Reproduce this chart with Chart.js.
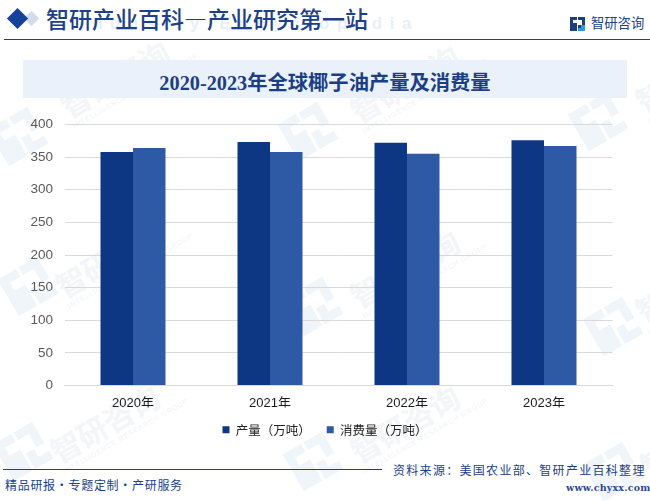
<!DOCTYPE html>
<html lang="zh">
<head>
<meta charset="utf-8">
<script src="https://cdn.jsdelivr.net/npm/chart.js@4/dist/chart.umd.min.js"></script>
<style>
html,body{margin:0;padding:0;background:#fff;overflow:hidden}
#page{position:relative;width:650px;height:501px;overflow:hidden;font-family:"Noto Sans CJK SC",sans-serif}
.a{position:absolute;white-space:nowrap;line-height:1}
canvas#c{position:absolute;left:0;top:0}
.wm{position:absolute;transform:rotate(-30deg);transform-origin:0 0;color:#f3f5f8;font-weight:700;font-size:30px;line-height:1;white-space:nowrap}
.wm small{display:block;font-size:7px;font-weight:400;letter-spacing:.9px;font-family:"Liberation Sans";margin-top:3px;color:#f1f3f6}
.wl{position:absolute;transform:rotate(-30deg)}
</style>
</head>
<body>
<div id="page">
<div id="wms"></div>
<div class="a" style="left:23px;top:60px;width:604px;height:38px;background:#eaf1fb"></div>
<div class="a" style="left:80px;top:14px;font:700 17px 'Liberation Sans';letter-spacing:7.5px;color:#e9eff8">Industry Encyclopedia</div>
<div class="a" style="left:26px;top:12.5px;width:11px;height:11px;background:#d5dcec;transform:rotate(45deg)"></div>
<div class="a" style="left:10px;top:11px;width:15px;height:15px;background:#15429a;transform:rotate(45deg)"></div>
<div class="a" style="left:46px;top:7px;font-size:23px;font-weight:500;color:#1c4187">智研产业百科—产业研究第一站</div>
<svg class="a" style="left:570px;top:17px" width="15" height="14" viewBox="0 0 15 14">
<path d="M0 0h7v3H3v3h4v8H0zM8 0h7v8h-4v3h4v3H8V8h4V3H8z" fill="#1c3f7f"/><path d="M11 8h4v6H8v-3h3z" fill="#2d9bd8"/></svg>
<div class="a" style="left:591px;top:16px;font-size:13.3px;color:#1c4187">智研咨询</div>
<div class="a" style="left:4px;top:39px;width:646px;height:1px;background:#1c4187"></div>
<div class="a" style="left:0;top:65.5px;width:650px;text-align:center;font:700 20.3px 'Liberation Serif','Noto Sans CJK SC';color:#1c3f84">2020-2023年全球椰子油产量及消费量</div>
<canvas id="c" width="650" height="446" style="width:650px;height:446px"></canvas>
<div class="a" style="left:3px;top:469px;width:379px;height:1px;background:#1c4187"></div>
<div class="a" style="left:5px;top:479px;font-size:12px;letter-spacing:.7px;color:#1c4187">精品研报·专题定制·产研服务</div>
<div class="a" style="left:393px;top:464px;font-size:12px;letter-spacing:1.3px;color:#1c4187">资料来源：美国农业部、智研产业百科整理</div>
<div class="a" style="left:566px;top:482px;font:700 9.5px 'DejaVu Serif';letter-spacing:.2px;color:#2a4c8e">www.chyxx.com</div>
</div>
<script>
const categories = ["2020年","2021年","2022年","2023年"];
const seriesNames = ["产量（万吨）","消费量（万吨）"];
const production = [358,373,372,376];
const consumption = [364,358,355,367];
const yTicks = [0,50,100,150,200,250,300,350,400];

const wmSpots=[[55,95],[345,100],[630,90],[50,275],[345,285],[630,300],[45,440],[345,440],[635,455]];
const logoSpots=[[-5,115],[285,110],[575,100],[5,265],[290,285],[590,305],[0,430],[290,440],[590,450]];
const host=document.getElementById('wms');
wmSpots.forEach(p=>{const d=document.createElement('div');d.className='wm';d.style.left=p[0]+'px';d.style.top=p[1]+'px';
 d.innerHTML='智研咨询<small>INTELLIGENCE RESEARCH GROUP</small>';host.appendChild(d);});
logoSpots.forEach(p=>{const s=document.createElementNS('http://www.w3.org/2000/svg','svg');s.setAttribute('class','wl');s.setAttribute('width','46');s.setAttribute('height','43');s.setAttribute('viewBox','0 0 15 14');
 s.style.left=p[0]+'px';s.style.top=p[1]+'px';s.innerHTML='<path d="M0 0h7v3H3v3h4v8H0zM8 0h7v8h-4v3h4v3H8V8h4V3H8z" fill="#f0f5fa"/>';host.appendChild(s);});

const centreLegend={id:'centreLegend',afterLayout(chart){chart.legend.left=0;chart.legend.right=chart.width;}};

new Chart(document.getElementById('c'),{
 type:'bar',
 data:{labels:categories,datasets:[
  {label:seriesNames[0],data:production,backgroundColor:'#0e3783',categoryPercentage:0.4745,barPercentage:1},
  {label:seriesNames[1],data:consumption,backgroundColor:'#2e59a5',categoryPercentage:0.4745,barPercentage:1}
 ]},
 options:{
  responsive:false,animation:false,devicePixelRatio:1,
  layout:{padding:{top:124.5,right:37.5,left:0,bottom:0}},
  plugins:{tooltip:{enabled:false},legend:{position:'bottom',
   labels:{boxWidth:7,boxHeight:7,padding:16,color:'#222',font:{size:12.5,family:'"Noto Sans CJK SC"'}}}},
  scales:{
   x:{grid:{display:false,drawTicks:false},border:{color:'#d9d9d9',width:1},
      ticks:{color:'#1a1a1a',padding:10,maxRotation:0,font:{size:13,family:'"Liberation Sans","Noto Sans CJK SC"'}},
      afterFit(s){s.height=22;}},
   y:{min:0,max:400,afterBuildTicks(s){s.ticks=yTicks.map(v=>({value:v}));},
      grid:{color:'#d9d9d9',drawTicks:false},border:{display:false},
      ticks:{color:'#595959',padding:11.5,font:{size:13.5,family:'"Liberation Sans"'}},
      afterFit(s){s.width=64.5;}}
  }
 },
 plugins:[centreLegend]
});
</script>
</body>
</html>
